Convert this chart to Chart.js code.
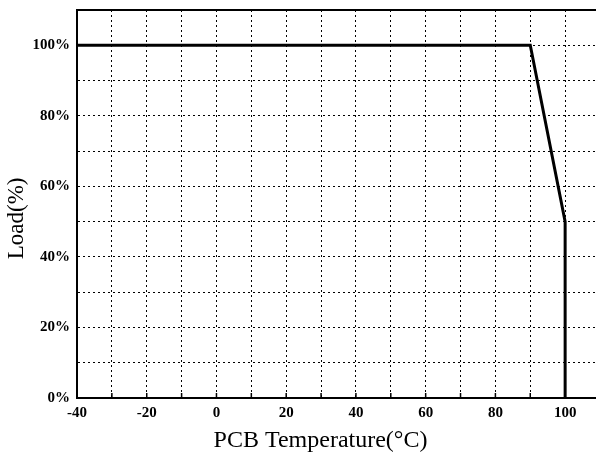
<!DOCTYPE html>
<html>
<head>
<meta charset="utf-8">
<script src="https://cdn.jsdelivr.net/npm/chart.js@4/dist/chart.umd.min.js"></script>
<style>
  html, body { margin: 0; padding: 0; background: #fff; overflow: hidden; }
  #wrap { width: 606px; height: 455px; }
</style>
</head>
<body>
<div id="wrap"><canvas id="c" width="606" height="455"></canvas></div>
<script>
// Data
const temperatures = [-40, 90, 100, 100];   // PCB temperature (°C)
const loadPercent  = [100, 100, 50, 0];     // Load (%)
const xTickLabels = [-40, -20, 0, 20, 40, 60, 80, 100];
const yTickLabels = [0, 20, 40, 60, 80, 100];
const xTitle = 'PCB Temperature(°C)';
const yTitle = 'Load(%)';

const points = temperatures.map((t, i) => ({ x: t, y: loadPercent[i] }));
const NBSP = '\u00A0';

const frameAndTicks = {
  id: 'frameAndTicks',
  afterDatasetsDraw(chart) {
    const { ctx, chartArea: a, scales } = chart;
    ctx.save();
    ctx.strokeStyle = '#000';
    ctx.setLineDash([]);
    ctx.lineWidth = 2;
    ctx.beginPath();
    ctx.moveTo(a.left, a.top);
    ctx.lineTo(a.right, a.top);
    ctx.stroke();
    ctx.lineWidth = 1.5;
    scales.x.ticks.forEach(t => {
      const px = scales.x.getPixelForValue(t.value);
      ctx.beginPath();
      ctx.moveTo(px, a.bottom);
      ctx.lineTo(px, a.bottom - 5);
      ctx.stroke();
    });
    ctx.restore();
  }
};

new Chart(document.getElementById('c'), {
  type: 'scatter',
  data: {
    datasets: [{
      data: points,
      showLine: true,
      borderColor: '#000',
      backgroundColor: '#000',
      borderWidth: 3,
      pointRadius: 0,
      borderJoinStyle: 'miter',
      tension: 0
    }]
  },
  options: {
    responsive: false,
    animation: false,
    layout: { padding: { top: 10, right: 0, left: 0, bottom: 0 } },
    plugins: { legend: { display: false }, tooltip: { enabled: false } },
    scales: {
      x: {
        type: 'linear',
        min: -40,
        max: 110,
        afterFit(s) { s.height = 57; },
        ticks: {
          stepSize: 10,
          autoSkip: false,
          maxRotation: 0,
          padding: 6,
          color: '#000',
          font: { family: '"Liberation Serif", serif', size: 15, weight: 'bold' },
          callback: v => xTickLabels.includes(v) ? String(v) : ''
        },
        grid: { color: '#000', lineWidth: 1, drawTicks: false },
        border: { display: true, color: '#000', width: 2, dash: [2, 3] },
        title: {
          display: true,
          text: xTitle + NBSP.repeat(6),
          color: '#000',
          font: { family: '"Liberation Serif", serif', size: 24 },
          padding: { top: 0, bottom: 0 }
        }
      },
      y: {
        type: 'linear',
        min: 0,
        max: 110,
        afterFit(s) { s.width = 77; s.paddingTop = 0; s.paddingBottom = 0; },
        ticks: {
          stepSize: 10,
          autoSkip: false,
          padding: 7,
          color: '#000',
          font: { family: '"Liberation Serif", serif', size: 15, weight: 'bold' },
          callback: v => yTickLabels.includes(v) ? v + '%' : ''
        },
        grid: { color: '#000', lineWidth: 1, drawTicks: false },
        border: { display: true, color: '#000', width: 2, dash: [2, 3] },
        title: {
          display: true,
          text: yTitle + NBSP.repeat(5),
          color: '#000',
          font: { family: '"Liberation Serif", serif', size: 23 },
          padding: { top: 3, bottom: 0 }
        }
      }
    }
  },
  plugins: [frameAndTicks]
});
</script>
</body>
</html>
